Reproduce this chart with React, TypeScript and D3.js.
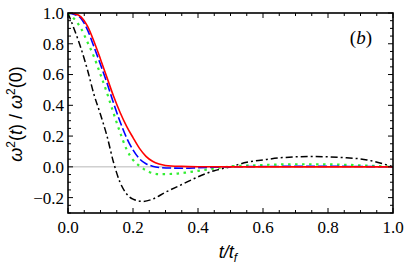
import React from "react";
import * as d3 from "d3";

// sample times (t / t_f)
const tRed = [0, 0.02, 0.04, 0.06, 0.08, 0.1, 0.12, 0.14, 0.16, 0.18, 0.2, 0.22, 0.24, 0.26, 0.28, 0.3, 0.35, 0.4, 0.5, 0.6, 0.7, 0.8, 0.9, 1.0];
const redVals = [1.0, 0.995, 0.975, 0.915, 0.815, 0.7, 0.58, 0.46, 0.355, 0.265, 0.19, 0.12, 0.068, 0.036, 0.018, 0.009, 0.003, 0.001, 0, 0, 0, 0, 0, 0];

const tBlue = [0, 0.02, 0.04, 0.06, 0.08, 0.1, 0.12, 0.14, 0.16, 0.18, 0.2, 0.22, 0.24, 0.26, 0.28, 0.32, 0.36, 0.4, 0.45, 0.5, 0.6, 0.7, 0.8, 0.9, 1.0];
const blueVals = [1.0, 0.99, 0.965, 0.89, 0.78, 0.665, 0.545, 0.415, 0.295, 0.19, 0.11, 0.052, 0.02, 0.004, -0.004, -0.008, -0.009, -0.006, -0.003, 0, 0.002, 0.003, 0.003, 0.002, 0];

const tGreen = [0, 0.02, 0.04, 0.06, 0.08, 0.1, 0.12, 0.14, 0.16, 0.18, 0.2, 0.22, 0.25, 0.28, 0.32, 0.36, 0.4, 0.45, 0.5, 0.6, 0.7, 0.8, 0.9, 1.0];
const greenVals = [1.0, 0.96, 0.9, 0.81, 0.715, 0.6, 0.48, 0.35, 0.225, 0.115, 0.045, 0.006, -0.033, -0.047, -0.046, -0.038, -0.026, -0.011, 0.002, 0.012, 0.017, 0.016, 0.01, 0];

const tBlack = [0, 0.02, 0.04, 0.06, 0.08, 0.1, 0.12, 0.14, 0.16, 0.18, 0.2, 0.23, 0.26, 0.3, 0.35, 0.4, 0.45, 0.5, 0.55, 0.6, 0.66, 0.75, 0.85, 0.92, 0.96, 1.0];
const blackVals = [1.0, 0.89, 0.77, 0.63, 0.47, 0.34, 0.2, 0.03, -0.1, -0.175, -0.21, -0.225, -0.21, -0.165, -0.115, -0.065, -0.025, 0, 0.03, 0.045, 0.06, 0.067, 0.06, 0.045, 0.025, 0];

const xTicks = [0, 0.2, 0.4, 0.6, 0.8, 1.0];
const yTicks = [-0.2, 0, 0.2, 0.4, 0.6, 0.8, 1.0];

const series = [
  { key: "black", t: tBlack, v: blackVals, color: "#000000", dash: "7,3,2,3", w: 1.5 },
  { key: "green", t: tGreen, v: greenVals, color: "#33ee33", dash: "2.5,4.5", w: 2.2 },
  { key: "blue", t: tBlue, v: blueVals, color: "#0000ff", dash: "9,3", w: 1.6 },
  { key: "red", t: tRed, v: redVals, color: "#ff0000", dash: undefined, w: 1.6 },
];

const SERIF = "'Liberation Serif', 'Times New Roman', serif";
const SANS = "'Liberation Sans', Arial, sans-serif";

const width = 407;
const height = 266;
const margin = { top: 13, right: 14, bottom: 53, left: 68 };

const App = () => {
  const x = d3.scaleLinear().domain([0, 1]).range([margin.left, width - margin.right]);
  const y = d3.scaleLinear().domain([-0.3, 1.0]).range([height - margin.bottom, margin.top]);
  const x0 = margin.left, x1 = width - margin.right;
  const y0 = height - margin.bottom, y1 = margin.top;

  const line = d3.line<[number, number]>()
    .x(d => x(d[0]))
    .y(d => y(d[1]))
    .curve(d3.curveMonotoneX);

  const fmt = d3.format(".1f");
  const isMajor = (v: number) => Math.abs(Math.round(v * 5) - v * 5) < 1e-6;
  const xMinor = d3.range(0, 1.0001, 0.05);
  const yMinor = d3.range(-0.3, 1.0001, 0.05);

  return (
    <svg width={width} height={height}
      style={{ position: "absolute", left: 0, top: 0, background: "#fff" }}>
      <defs>
        <clipPath id="plotclip">
          <rect x={x0} y={y1} width={x1 - x0} height={y0 - y1} />
        </clipPath>
      </defs>

      {/* zero line */}
      <line x1={x0} x2={x1} y1={y(0)} y2={y(0)} stroke="#b8b8b8" strokeWidth={1} />

      {/* curves */}
      <g clipPath="url(#plotclip)">
        {series.map(s => (
          <path key={s.key}
            d={line(s.t.map((t, i) => [t, s.v[i]] as [number, number])) || ""}
            fill="none" stroke={s.color} strokeWidth={s.w} strokeDasharray={s.dash} />
        ))}
      </g>

      {/* ticks, inward on all four sides */}
      <g stroke="#000" strokeWidth={1}>
        {xMinor.map((v, i) => {
          const len = isMajor(v) ? 5 : 3;
          return (
            <g key={"xt" + i}>
              <line x1={x(v)} x2={x(v)} y1={y0} y2={y0 - len} />
              <line x1={x(v)} x2={x(v)} y1={y1} y2={y1 + len} />
            </g>
          );
        })}
        {yMinor.map((v, i) => {
          const len = isMajor(v) ? 5 : 3;
          return (
            <g key={"yt" + i}>
              <line y1={y(v)} y2={y(v)} x1={x0} x2={x0 + len} />
              <line y1={y(v)} y2={y(v)} x1={x1} x2={x1 - len} />
            </g>
          );
        })}
      </g>

      {/* frame */}
      <rect x={x0} y={y1} width={x1 - x0} height={y0 - y1} fill="none" stroke="#000" strokeWidth={1.6} />

      {/* tick labels */}
      {xTicks.map(d => (
        <text key={"xl" + d} x={x(d)} y={y0 + 20} textAnchor="middle"
          fontFamily={SERIF} fontSize={17}>{fmt(d)}</text>
      ))}
      {yTicks.map(d => (
        <text key={"yl" + d} x={x0 - 4} y={y(d)} dy="0.35em" textAnchor="end"
          fontFamily={SERIF} fontSize={17}>
          {d < 0 ? "\u2212" + fmt(-d) : fmt(d)}
        </text>
      ))}

      {/* axis titles */}
      <text x={228} y={258} textAnchor="middle"
        fontFamily={SANS} fontStyle="italic" fontSize={18}>
        t/t<tspan dy={4} fontSize={12}>f</tspan>
      </text>

      <text transform="translate(22,114) rotate(-90)" textAnchor="middle"
        fontFamily={SANS} fontSize={18}>
        <tspan fontStyle="italic">{"\u03c9"}</tspan>
        <tspan dy={-7} fontSize={12}>2</tspan>
        <tspan dy={7}>(</tspan>
        <tspan fontStyle="italic">t</tspan>
        <tspan>) / </tspan>
        <tspan fontStyle="italic">{"\u03c9"}</tspan>
        <tspan dy={-7} fontSize={12}>2</tspan>
        <tspan dy={7}>(0)</tspan>
      </text>

      {/* panel label */}
      <text x={372} y={44} textAnchor="end" fontFamily={SERIF} fontSize={19}>
        (<tspan fontStyle="italic">b</tspan>)
      </text>
    </svg>
  );
};

export default App;
